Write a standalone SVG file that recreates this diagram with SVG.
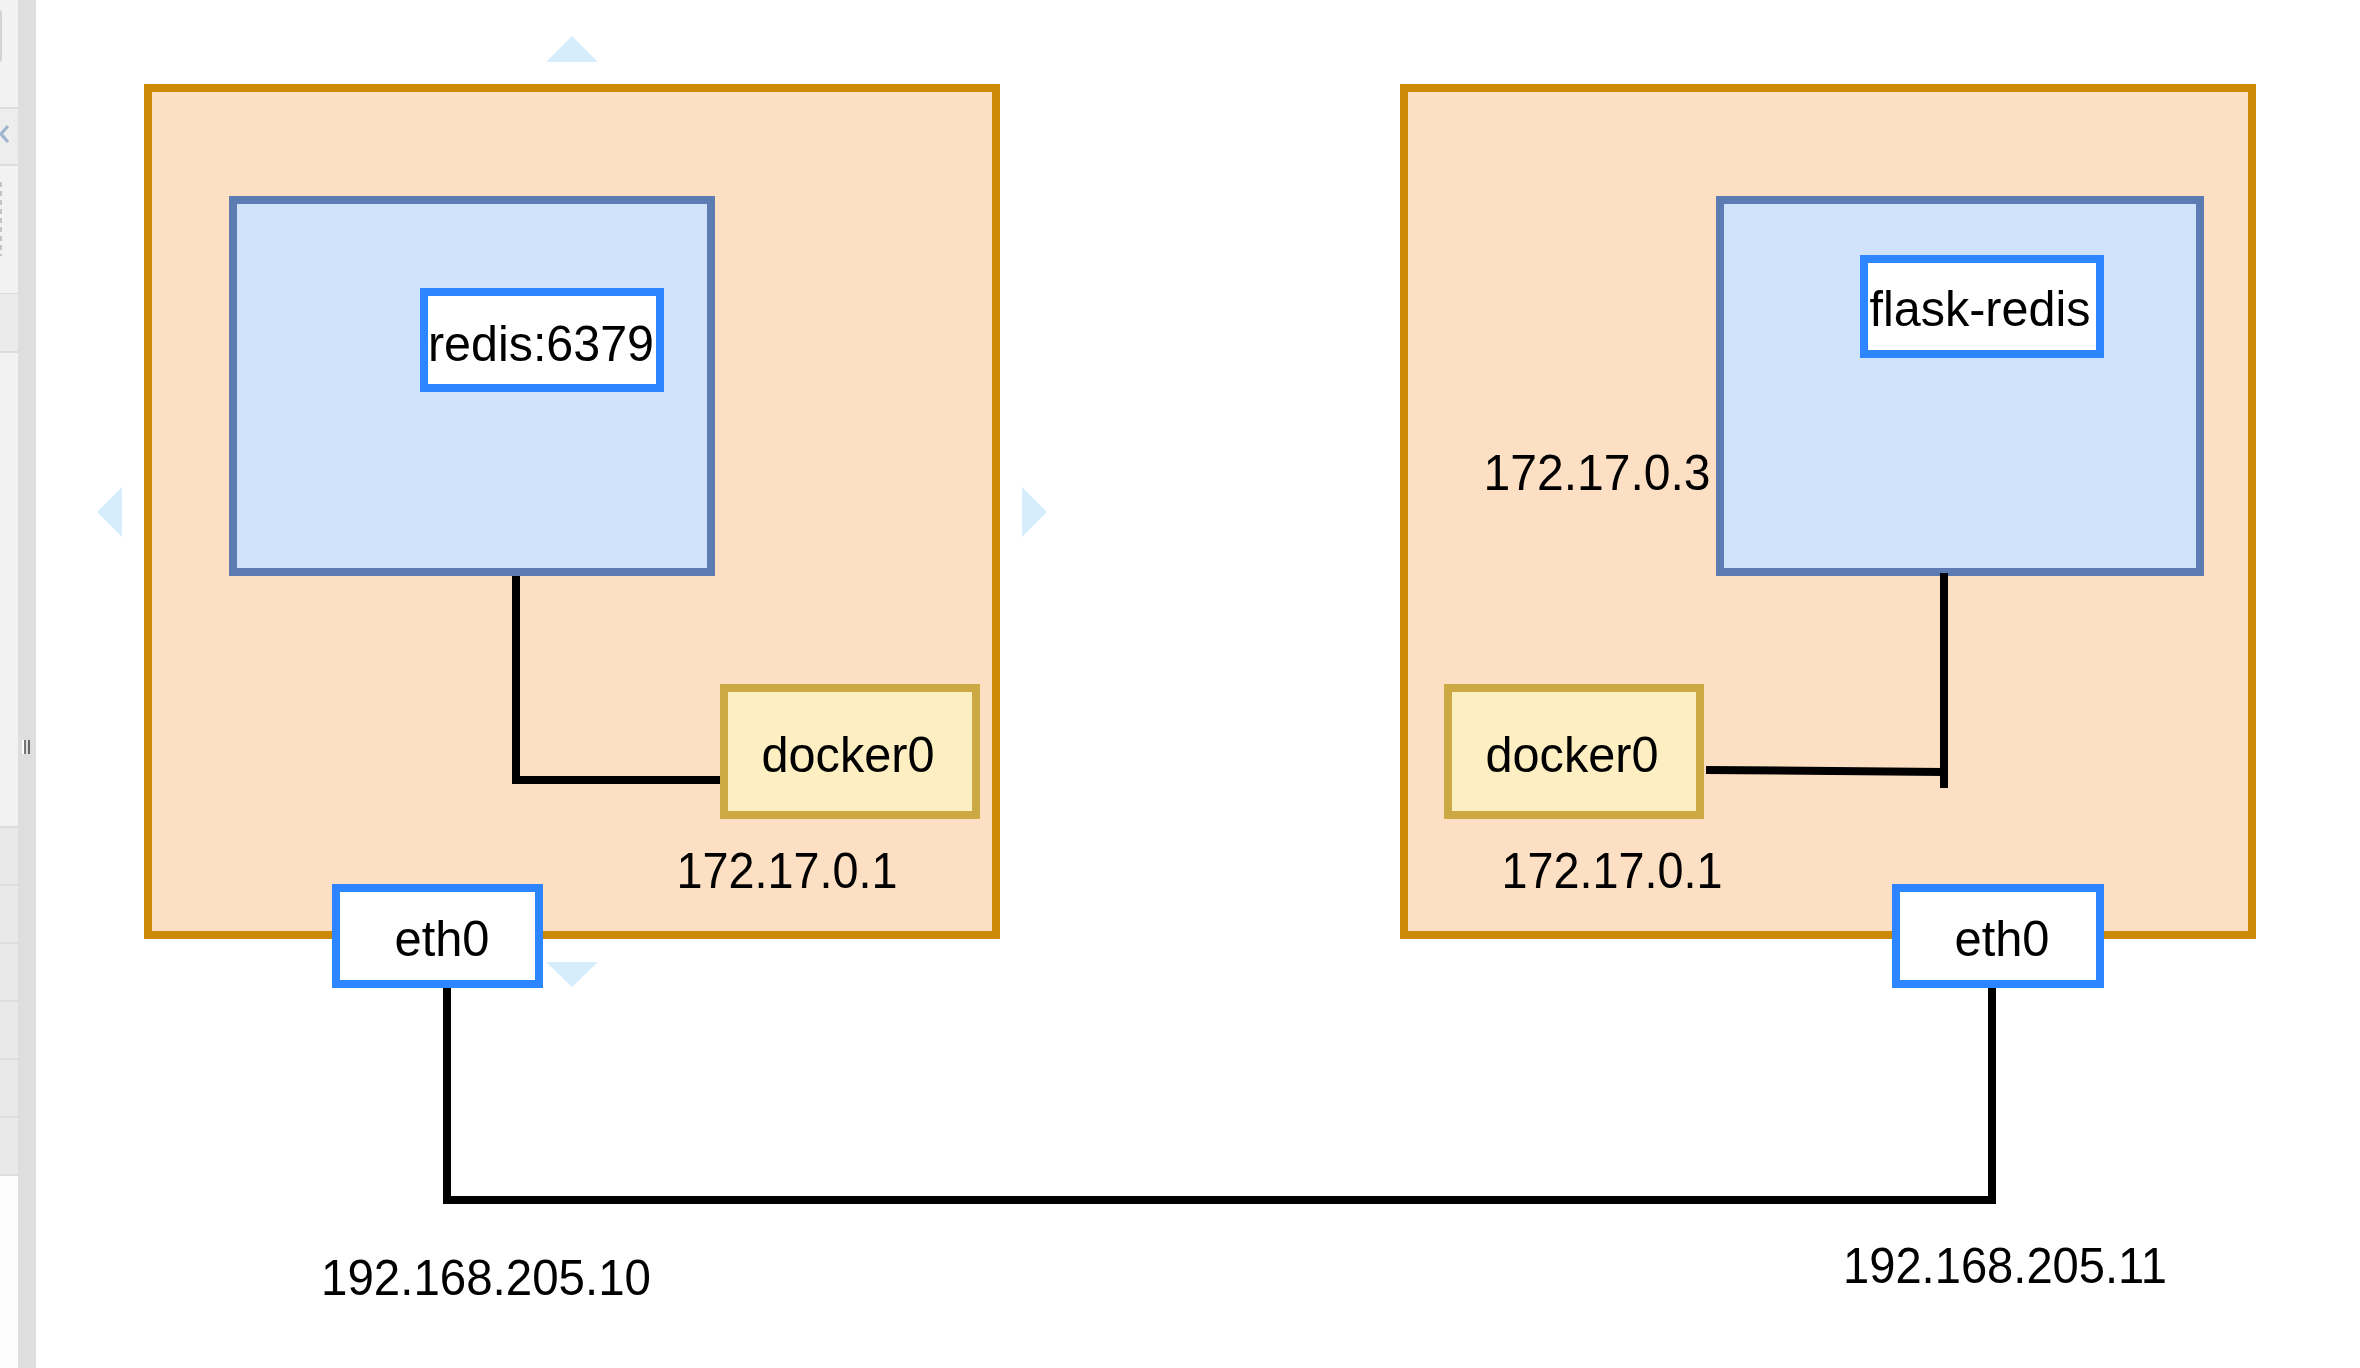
<svg xmlns="http://www.w3.org/2000/svg" width="2360" height="1368" viewBox="0 0 2360 1368">
<style>
.host{fill:#fddfc3;stroke:#cd8a06;stroke-width:8}
.ctr{fill:#d1e3fa;stroke:#5c7cb3;stroke-width:8}
.lbl{fill:#ffffff;stroke:#2d85ff;stroke-width:8}
.br{fill:#fdefc2;stroke:#cda944;stroke-width:8}
.hint{fill:#d6eefc}
.wire{fill:none;stroke:#000000;stroke-width:8}
text{font-family:"Liberation Sans",Arial,Helvetica,sans-serif;font-size:50px;fill:#000000;text-anchor:middle}
</style>
<rect x="0" y="0" width="2360" height="1368" fill="#ffffff"/>
<g id="ui-panel">
  <rect x="0" y="0" width="18" height="1368" fill="#fdfdfd"/>
  <rect x="0" y="0" width="18" height="1175" fill="#f2f2f2"/>
  <rect x="0" y="108" width="18" height="56" fill="#ededed"/>
  <rect x="0" y="293" width="18" height="58" fill="#ebebeb"/>
  <rect x="0" y="826" width="18" height="349" fill="#e9e9e9"/>
  <g fill="#dddddd">
    <rect x="0" y="107" width="18" height="2"/>
    <rect x="0" y="164" width="18" height="2"/>
    <rect x="0" y="293" width="18" height="1"/>
    <rect x="0" y="351" width="18" height="2"/>
    <rect x="0" y="826" width="18" height="2"/>
    <rect x="0" y="884" width="18" height="2"/>
    <rect x="0" y="942" width="18" height="2"/>
    <rect x="0" y="1000" width="18" height="2"/>
    <rect x="0" y="1058" width="18" height="2"/>
    <rect x="0" y="1116" width="18" height="2"/>
    <rect x="0" y="1174" width="18" height="2"/>
  </g>
  <rect x="-6" y="10" width="8" height="52" rx="3" fill="#d4d4d4"/>
  <path d="M8 126 L1 134 L8 142" fill="none" stroke="#9fb4cf" stroke-width="3"/>
  <line x1="1" y1="182" x2="1" y2="256" stroke="#c4c4c4" stroke-width="2" stroke-dasharray="5 4"/>
  <rect x="18" y="0" width="18" height="1368" fill="#dedede"/>
  <rect x="22" y="740" width="2" height="14" fill="#ffffff"/>
  <rect x="24" y="740" width="2" height="14" fill="#777777"/>
  <rect x="28" y="740" width="2" height="14" fill="#666666"/>
</g>
<g id="hints">
  <polygon class="hint" points="572,36 598,62 546,62"/>
  <polygon class="hint" points="572,987 546,962 598,962"/>
  <polygon class="hint" points="97,512 122,487 122,537"/>
  <polygon class="hint" points="1047,512 1022,487 1022,537"/>
</g>
<g id="host1">
  <rect class="host" x="148" y="88" width="848" height="847"/>
</g>
<g id="host2">
  <rect class="host" x="1404" y="88" width="848" height="847"/>
</g>
<g id="container1">
  <rect class="ctr" x="233" y="200" width="478" height="372"/>
</g>
<g id="container2">
  <rect class="ctr" x="1720" y="200" width="480" height="372"/>
</g>
<g id="redis">
  <rect class="lbl" x="424" y="292" width="236" height="96"/>
  <text x="541" y="361" textLength="226" lengthAdjust="spacingAndGlyphs">redis:6379</text>
</g>
<g id="flask-redis">
  <rect class="lbl" x="1864" y="259" width="236" height="95"/>
  <text x="1980" y="326" textLength="221" lengthAdjust="spacingAndGlyphs">flask-redis</text>
</g>
<g id="ip-container2">
  <text x="1597" y="490" textLength="227" lengthAdjust="spacingAndGlyphs">172.17.0.3</text>
</g>
<g id="connectors">
  <path class="wire" d="M516 576 V780 H720"/>
  <path class="wire" d="M1706 770 L1944 772"/>
  <path class="wire" d="M1944 573 V788"/>
  <path class="wire" d="M447 988 V1200 H1992 V988"/>
</g>
<g id="docker0-1">
  <rect class="br" x="724" y="688" width="252" height="127"/>
  <text x="848" y="772" textLength="173" lengthAdjust="spacingAndGlyphs">docker0</text>
</g>
<g id="docker0-2">
  <rect class="br" x="1448" y="688" width="252" height="127"/>
  <text x="1572" y="772" textLength="173" lengthAdjust="spacingAndGlyphs">docker0</text>
</g>
<g id="ip-docker0-1">
  <text x="787" y="888" textLength="221" lengthAdjust="spacingAndGlyphs">172.17.0.1</text>
</g>
<g id="ip-docker0-2">
  <text x="1612" y="888" textLength="221" lengthAdjust="spacingAndGlyphs">172.17.0.1</text>
</g>
<g id="eth0-1">
  <rect class="lbl" x="336" y="888" width="203" height="96"/>
  <text x="442" y="956" textLength="95" lengthAdjust="spacingAndGlyphs">eth0</text>
</g>
<g id="eth0-2">
  <rect class="lbl" x="1896" y="888" width="204" height="96"/>
  <text x="2002" y="956" textLength="95" lengthAdjust="spacingAndGlyphs">eth0</text>
</g>
<g id="ip-eth0-1">
  <text x="486" y="1295" textLength="330" lengthAdjust="spacingAndGlyphs">192.168.205.10</text>
</g>
<g id="ip-eth0-2">
  <text x="2005" y="1283" textLength="324" lengthAdjust="spacingAndGlyphs">192.168.205.11</text>
</g>
</svg>
